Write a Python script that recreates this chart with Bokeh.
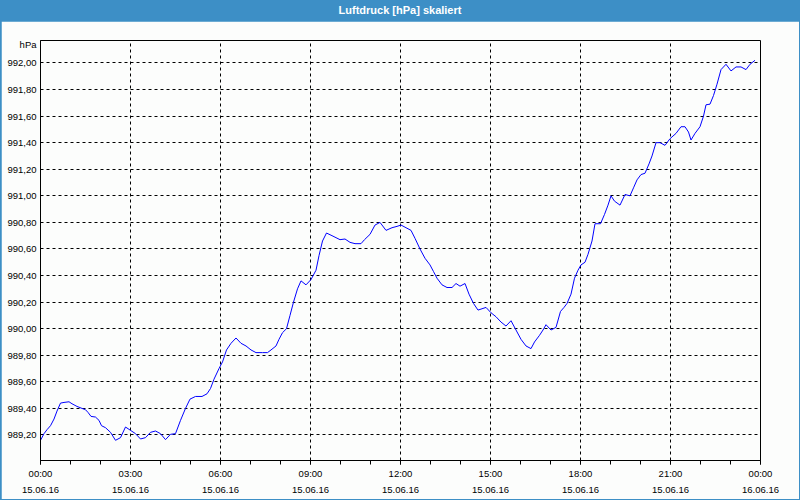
from bokeh.plotting import figure
from bokeh.models import (FixedTicker, LinearAxis, Div, Range1d, ColumnDataSource, Grid)
from bokeh.layouts import column
from bokeh.embed import file_html
from bokeh.resources import INLINE

# ---- data ----
title_text = "Luftdruck [hPa] skaliert"
y_unit = "hPa"

minutes = [
    0, 7, 13, 20, 27, 33, 40, 47, 57, 63,
    73, 83, 90, 95, 101, 110, 117, 122, 130, 140,
    150, 160, 170, 180, 190, 200, 210, 220, 230, 240,
    250, 260, 270, 280, 290, 299, 310, 323, 333, 340,
    347, 357, 364, 372, 381, 391, 401, 411, 421, 431,
    444, 454, 461, 471, 477, 484, 492, 499, 506, 514,
    521, 531, 541, 551, 557, 564, 572, 583, 599, 609,
    619, 629, 641, 648, 659, 669, 679, 691, 703, 713,
    721, 731, 741, 749, 759, 769, 779, 786, 793, 803,
    813, 823, 831, 839, 849, 857, 866, 875, 891, 901,
    911, 921, 931, 941, 951, 961, 971, 981, 988, 998,
    1005, 1011, 1021, 1031, 1040, 1047, 1053, 1061, 1068, 1075,
    1081, 1089, 1095, 1103, 1109, 1120, 1128, 1135, 1141, 1148,
    1159, 1169, 1179, 1186, 1193, 1201, 1209, 1217, 1223, 1231,
    1239, 1249, 1259, 1271, 1281, 1289, 1296, 1301, 1309, 1319,
    1326, 1331, 1339, 1346, 1353, 1361, 1371, 1381, 1391, 1401,
    1411, 1419, 1429,
]

pressure_hpa = [
    989.16, 989.21, 989.24, 989.27, 989.32, 989.38, 989.44, 989.445, 989.45, 989.435,
    989.415, 989.40, 989.39, 989.37, 989.34, 989.335, 989.31, 989.27, 989.255, 989.22,
    989.16, 989.18, 989.26, 989.235, 989.21, 989.17, 989.18, 989.22, 989.23, 989.21,
    989.165, 989.205, 989.21, 989.31, 989.40, 989.47, 989.49, 989.49, 989.51, 989.55,
    989.62, 989.70, 989.75, 989.84, 989.89, 989.93, 989.89, 989.87, 989.84, 989.82,
    989.82, 989.82, 989.84, 989.87, 989.92, 989.97, 990.00, 990.10, 990.20, 990.30,
    990.36, 990.33, 990.37, 990.44, 990.55, 990.66, 990.72, 990.70, 990.67, 990.675,
    990.65, 990.64, 990.64, 990.67, 990.71, 990.78, 990.80, 990.74, 990.76, 990.77,
    990.78, 990.76, 990.74, 990.68, 990.60, 990.53, 990.48, 990.43, 990.38, 990.33,
    990.31, 990.31, 990.34, 990.32, 990.34, 990.26, 990.19, 990.14, 990.16, 990.12,
    990.09, 990.05, 990.02, 990.06, 989.99, 989.92, 989.87, 989.85, 989.90, 989.95,
    989.99, 990.03, 989.99, 990.01, 990.13, 990.16, 990.19, 990.26, 990.38, 990.44,
    990.48, 990.50, 990.56, 990.66, 990.79, 990.79, 990.86, 990.93, 991.00, 990.96,
    990.93, 991.01, 991.00, 991.06, 991.12, 991.16, 991.17, 991.24, 991.30, 991.40,
    991.40, 991.38, 991.43, 991.47, 991.52, 991.52, 991.48, 991.42, 991.47, 991.52,
    991.60, 991.685, 991.69, 991.755, 991.84, 991.95, 991.99, 991.94, 991.97, 991.97,
    991.95, 991.99, 992.02,
]

x_tick_hours = [0, 3, 6, 9, 12, 15, 18, 21, 24]
x_tick_times = ["00:00", "03:00", "06:00", "09:00", "12:00", "15:00", "18:00", "21:00", "00:00"]
x_tick_dates = ["15.06.16", "15.06.16", "15.06.16", "15.06.16", "15.06.16",
                "15.06.16", "15.06.16", "15.06.16", "16.06.16"]
x_minor_hours = list(range(0, 25))

y_tick_values = [989.2, 989.4, 989.6, 989.8, 990.0, 990.2, 990.4,
                 990.6, 990.8, 991.0, 991.2, 991.4, 991.6, 991.8, 992.0]
y_tick_labels = ["989,20", "989,40", "989,60", "989,80", "990,00", "990,20", "990,40",
                 "990,60", "990,80", "991,00", "991,20", "991,40", "991,60", "991,80", "992,00"]

# ---- styling ----
BLUE = "#3d8fc6"
BG = "#fcfdfc"
FONT = "Liberation Sans"
FSIZE = "9.5px"
UNIT_POS = 992.14

hours = [m / 60.0 for m in minutes]
src = ColumnDataSource(dict(h=hours, p=pressure_hpa))

p = figure(width=798, height=478,
           x_range=Range1d(0, 24), y_range=Range1d(989.008, 992.169),
           output_backend="svg", toolbar_location=None,
           x_axis_type=None, y_axis_type=None,
           min_border_left=39, min_border_right=39,
           min_border_top=19, min_border_bottom=39,
           background_fill_color=BG, border_fill_color=BG,
           outline_line_color="black", outline_line_width=1,
           margin=(0, 1, 1, 1))

# grids
p.add_layout(Grid(dimension=0, ticker=FixedTicker(ticks=x_tick_hours),
                  grid_line_color="black", grid_line_dash="3 3", grid_line_width=1))
p.add_layout(Grid(dimension=1, ticker=FixedTicker(ticks=y_tick_values),
                  grid_line_color="black", grid_line_dash="3 3", grid_line_width=1))

# y axis
y_over = {v: s for v, s in zip(y_tick_values, y_tick_labels)}
y_over[UNIT_POS] = y_unit
yaxis = LinearAxis(ticker=FixedTicker(ticks=y_tick_values + [UNIT_POS]),
                   major_label_overrides=y_over,
                   major_tick_in=0, major_tick_out=0,
                   minor_tick_in=0, minor_tick_out=0,
                   major_tick_line_color=None, minor_tick_line_color=None,
                   axis_line_color="black", major_label_standoff=4,
                   major_label_text_font=FONT, major_label_text_font_size=FSIZE,
                   major_label_text_color="black")
p.add_layout(yaxis, "left")

# x axis (times)
xaxis1 = LinearAxis(ticker=FixedTicker(ticks=x_tick_hours, minor_ticks=x_minor_hours),
                    major_label_overrides={h: s for h, s in zip(x_tick_hours, x_tick_times)},
                    major_tick_in=0, major_tick_out=4,
                    minor_tick_in=0, minor_tick_out=4,
                    major_tick_line_color="black", minor_tick_line_color="black",
                    axis_line_color="black", major_label_standoff=3,
                    major_label_text_font=FONT, major_label_text_font_size=FSIZE,
                    major_label_text_color="black")
p.add_layout(xaxis1, "below")

# x axis (dates)
xaxis2 = LinearAxis(ticker=FixedTicker(ticks=x_tick_hours),
                    major_label_overrides={h: s for h, s in zip(x_tick_hours, x_tick_dates)},
                    major_tick_in=0, major_tick_out=0,
                    minor_tick_in=0, minor_tick_out=0,
                    major_tick_line_color=None, minor_tick_line_color=None,
                    axis_line_color=None, major_label_standoff=5,
                    major_label_text_font=FONT, major_label_text_font_size=FSIZE,
                    major_label_text_color="black")
p.add_layout(xaxis2, "below")

p.line("h", "p", source=src, line_color="#0000ff", line_width=1)

title = Div(text=title_text, width=800, height=21, margin=0,
            styles={"background-color": BLUE, "color": "white",
                    "font-family": FONT, "font-weight": "bold",
                    "font-size": "11px", "text-align": "center",
                    "line-height": "21px"})

layout = column(title, p, spacing=0, margin=0, styles={"background-color": BLUE})

open("out.html", "w").write(file_html(layout, INLINE))
